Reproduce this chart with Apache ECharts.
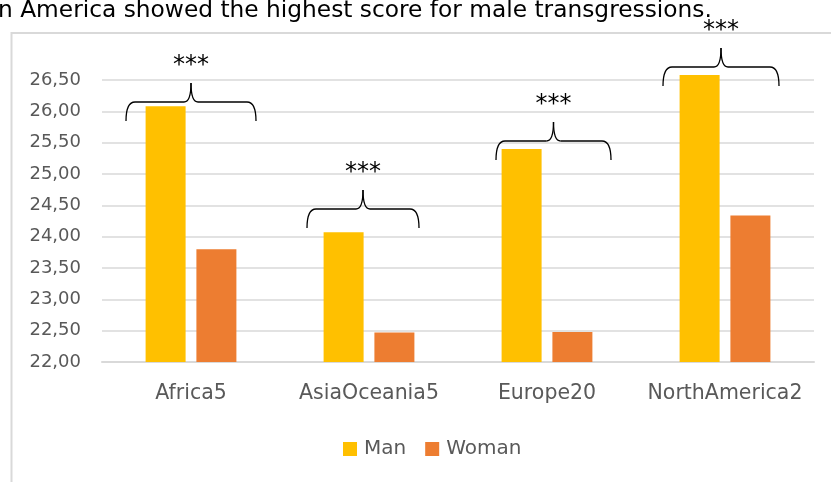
<!DOCTYPE html>
<html>
<head>
<meta charset="utf-8">
<script src="https://cdn.jsdelivr.net/npm/echarts@6/dist/echarts.min.js"></script>
<style>
  html, body { margin: 0; padding: 0; background: #fff; }
  #main { width: 831px; height: 482px; }
</style>
</head>
<body>
<div id="main"></div>
<script>
// region groups and mean scores
var categories = ['Africa5', 'AsiaOceania5', 'Europe20', 'NorthAmerica2'];
var manScores = [26.08, 24.07, 25.40, 26.58];
var womanScores = [23.80, 22.47, 22.48, 24.34];
var seriesNames = ['Man', 'Woman'];
var sigMarks = ['***', '***', '***', '***'];
var headline = 'n America showed the highest score for male transgressions.';

// brace annotation: left, right, line y, tip y (pixels)
var braces = [
    [126, 256, 102, 83],
    [307, 419, 209, 190],
    [496, 611, 141, 122],
    [663, 779, 67, 48]
];

var braceStyle = { fill: 'none', stroke: '#000', lineWidth: 1.3 };

// a curly brace made of short curves and two straight runs
function braceParts(b) {
    var l = b[0], r = b[1], y = b[2], t = b[3], m = (l + r) / 2, d = 19;
    function curve(x1, y1, cx, cy, x2, y2) {
        return { type: 'bezierCurve', z: 10, silent: true,
            shape: { x1: x1, y1: y1, cpx1: cx, cpy1: cy, x2: x2, y2: y2 },
            style: braceStyle };
    }
    function seg(x1, y1, x2, y2) {
        return { type: 'line', z: 10, silent: true,
            shape: { x1: x1, y1: y1, x2: x2, y2: y2 },
            style: braceStyle };
    }
    return [
        curve(l, y + d, l, y, l + 9, y),
        seg(l + 9, y, m - 7, y),
        curve(m - 7, y, m, y, m, t),
        curve(m, t, m, y, m + 7, y),
        seg(m + 7, y, r - 9, y),
        curve(r - 9, y, r, y, r, y + d)
    ];
}

var graphics = [
    {
        type: 'rect', x: 11.5, y: 33, silent: true, z: 0,
        shape: { x: 0, y: 0, width: 900, height: 500 },
        style: { fill: 'none', stroke: '#d9d9d9', lineWidth: 2 }
    },
    {
        type: 'text', x: -2, y: -1, z: 10,
        style: { text: headline, font: '23.3px "DejaVu Sans"', fill: '#000' }
    }
];
braces.forEach(function (b, i) {
    graphics = graphics.concat(braceParts(b));
    graphics.push({
        type: 'text', z: 10,
        x: (b[0] + b[1]) / 2, y: b[3] - 5,
        style: {
            text: sigMarks[i], font: '24px "DejaVu Sans"', fill: '#000',
            align: 'center', verticalAlign: 'bottom'
        }
    });
});

var myChart = echarts.init(document.getElementById('main'));
var option = {
    animation: false,
    grid: { left: 102, right: 17, top: 67.5, bottom: 120 },
    legend: {
        data: seriesNames,
        left: 338,
        top: 434,
        itemWidth: 14,
        itemHeight: 14,
        itemGap: 19,
        icon: 'rect',
        textStyle: { color: '#595959', fontSize: 20, fontFamily: 'DejaVu Sans', padding: [0, 0, 0, 2] }
    },
    xAxis: {
        type: 'category',
        data: categories,
        axisLine: { lineStyle: { color: '#d9d9d9', width: 2 } },
        axisTick: { show: false },
        axisLabel: { interval: 0, color: '#595959', fontSize: 20.5, fontFamily: 'DejaVu Sans', margin: 21 }
    },
    yAxis: {
        type: 'value',
        min: 22,
        max: 26.7,
        interval: 0.5,
        axisLine: { show: false },
        axisTick: { show: false },
        splitLine: { showMaxLine: false, lineStyle: { color: '#d9d9d9', width: 1.5 } },
        axisLabel: {
            showMaxLabel: false,
            color: '#595959', fontSize: 18, fontFamily: 'DejaVu Sans', margin: 21,
            formatter: function (v) { return v > 26.5 ? '' : v.toFixed(2).replace('.', ','); }
        }
    },
    series: [
        {
            name: seriesNames[0], type: 'bar', data: manScores,
            barWidth: 40, barGap: '27%',
            itemStyle: { color: '#ffc000' }
        },
        {
            name: seriesNames[1], type: 'bar', data: womanScores,
            barWidth: 40, barGap: '27%',
            itemStyle: { color: '#ed7d31' }
        }
    ],
    graphic: graphics
};
myChart.setOption(option);
</script>
</body>
</html>
